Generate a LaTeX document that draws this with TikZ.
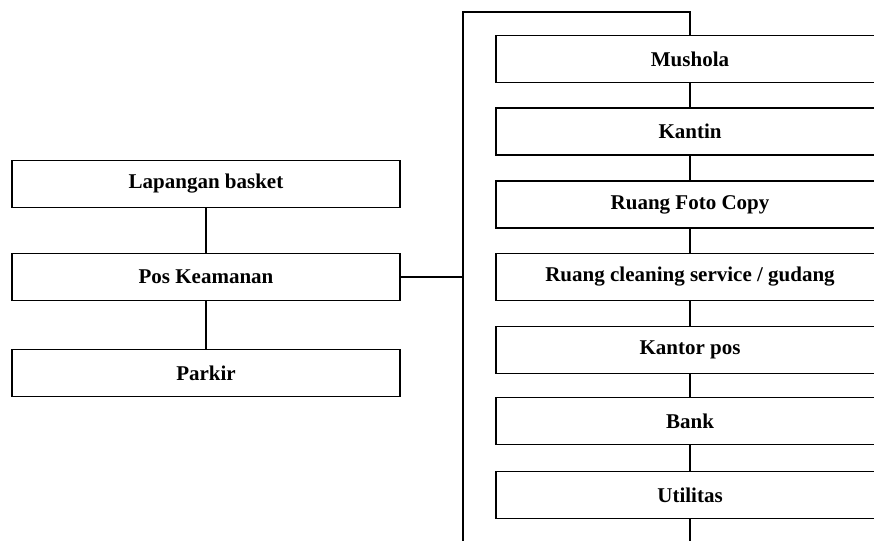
\documentclass[tikz,border=0pt]{standalone}
\usepackage{fontspec}
\setmainfont{Liberation Serif}
\begin{document}
\begin{tikzpicture}[x=1pt,y=-1pt,
  box/.style={draw,line width=1.2pt,minimum width=388pt,minimum height=47pt,inner sep=0pt,font=\fontsize{21}{24}\selectfont\bfseries,fill=white},
  link/.style={line width=1.2pt}]
\useasboundingbox (0,0) rectangle (874,540);
\clip (0,0) rectangle (874,540);
% left column
\node[box] (lap) at (206,184) {Lapangan basket};
\node[box] (pos) at (206,277) {Pos Keamanan};
\node[box] (par) at (206,373) {Parkir};
% right column
\node[box] (mus) at (690,59) {Mushola};
\node[box] (kan) at (690,131.5) {Kantin};
\node[box] (foto) at (690,204.5) {Ruang Foto Copy};
\node[box] (clean) at (690,277) {Ruang cleaning service / gudang};
\node[box] (kpos) at (690,350) {Kantor pos};
\node[box] (bank) at (690,421) {Bank};
\node[box] (util) at (690,495) {Utilitas};
% junction points
\coordinate (top) at (463,12);
\coordinate (bus) at (463,277);
\coordinate (bot) at (463,545);
\coordinate (botr) at (690,545);
% connectors
\draw[link] (lap) -- (pos);
\draw[link] (pos) -- (par);
\draw[link] (pos.east) -- (bus);
\draw[link] (bot) -- (top) -| (mus.north);
\draw[link] (mus) -- (kan);
\draw[link] (kan) -- (foto);
\draw[link] (foto) -- (clean);
\draw[link] (clean) -- (kpos);
\draw[link] (kpos) -- (bank);
\draw[link] (bank) -- (util);
\draw[link] (util) -- (botr);
\end{tikzpicture}
\end{document}
